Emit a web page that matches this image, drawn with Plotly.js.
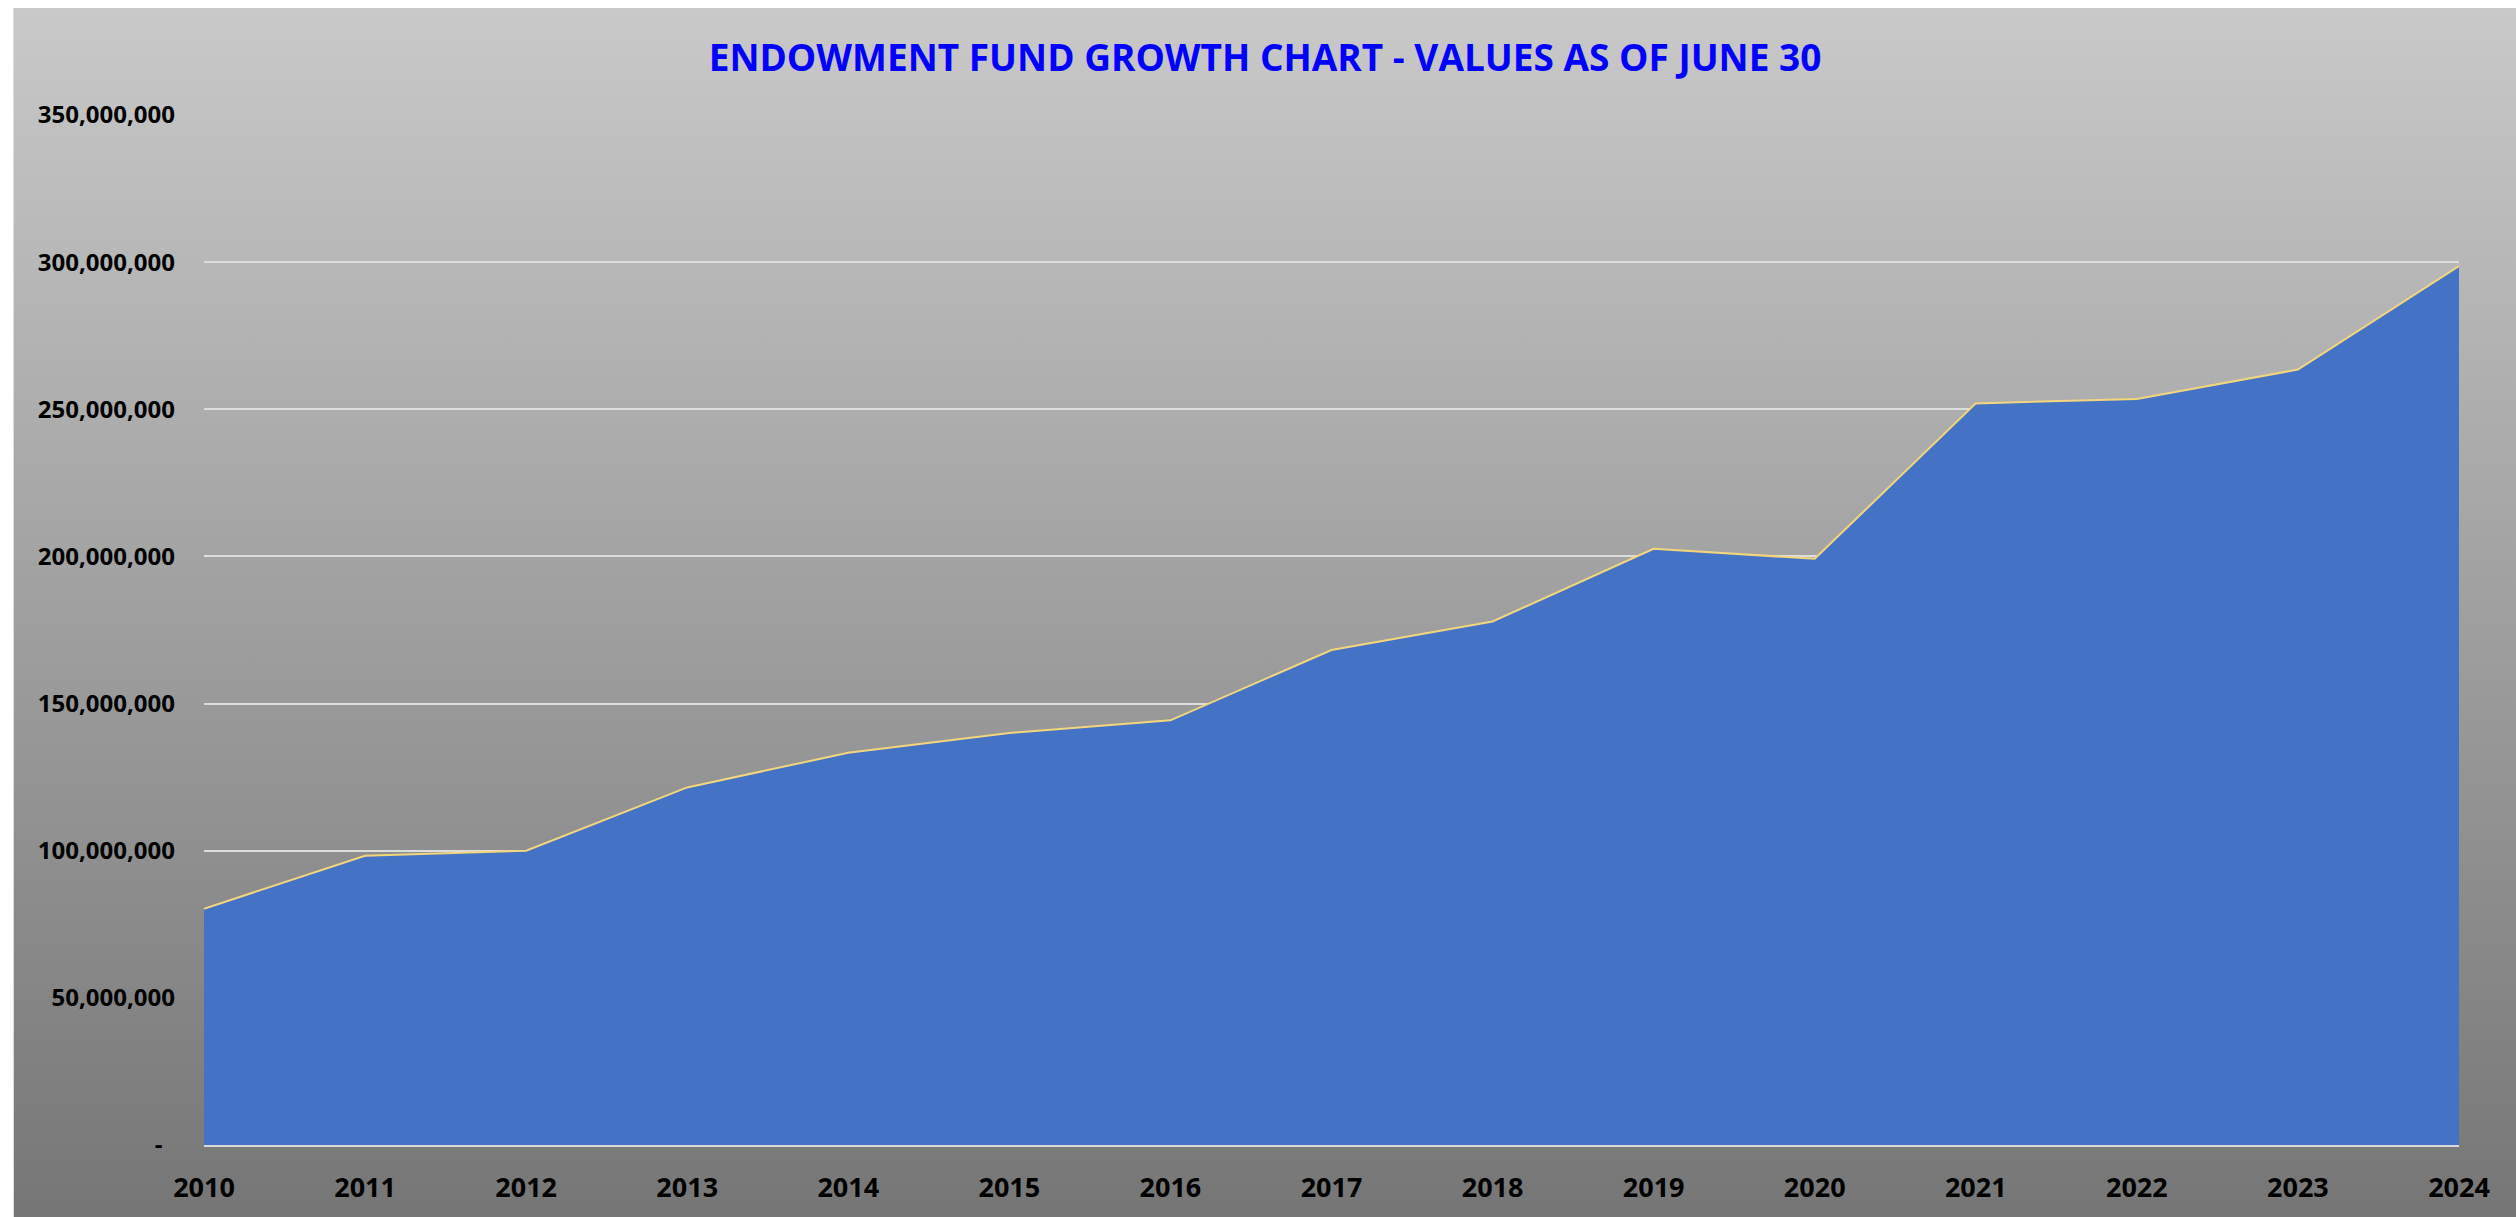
<!DOCTYPE html>
<html>
<head>
<meta charset="utf-8">
<script src="https://cdn.plot.ly/plotly-3.0.1.min.js"></script>
<style>
  html, body { margin: 0; padding: 0; background: #ffffff; width: 2516px; height: 1217px; overflow: hidden; }
  #chart {
    position: absolute; left: 13px; top: 8px; width: 2503px; height: 1209px;
    background: linear-gradient(to bottom, #c9c9c9 0%, #767676 100%);
    border-left: 1px solid #dcdcdc; box-sizing: border-box;
  }
</style>
</head>
<body>
<div id="chart"></div>
<script>
const years = [2010, 2011, 2012, 2013, 2014, 2015, 2016, 2017, 2018, 2019, 2020, 2021, 2022, 2023, 2024];
const fundValues = [80300000, 98300000, 100000000, 121500000, 133300000, 140000000, 144300000, 168200000, 177900000, 202600000, 199200000, 252000000, 253500000, 263500000, 298700000];
const yTickVals = [0, 50000000, 100000000, 150000000, 200000000, 250000000, 300000000, 350000000];
const yTickText = ['-\u00a0\u00a0', '50,000,000', '100,000,000', '150,000,000', '200,000,000', '250,000,000', '300,000,000', '350,000,000'];
const xTickText = years.map(String);
const chartTitle = 'ENDOWMENT FUND GROWTH CHART - VALUES AS OF JUNE 30';

const traces = [
  {
    x: years, y: fundValues, type: 'scatter', mode: 'lines',
    fill: 'tozeroy', fillcolor: '#4472C4',
    line: { color: '#F3D67C', width: 2 },
    hoverinfo: 'x+y', showlegend: false
  }
];

const layout = {
  width: 2502, height: 1209,
  paper_bgcolor: 'rgba(0,0,0,0)', plot_bgcolor: 'rgba(0,0,0,0)',
  margin: { l: 190, r: 57, t: 107, b: 72 },
  showlegend: false,
  title: {
    text: chartTitle,
    font: { family: 'Open Sans, sans-serif', size: 37, color: '#0000FF', weight: 'bold' },
    x: 0.5, xanchor: 'center', xref: 'container',
    y: 1 - 50 / 1209, yanchor: 'middle', yref: 'container'
  },
  xaxis: {
    type: 'linear', range: [2010, 2024],
    tickmode: 'array', tickvals: years, ticktext: xTickText,
    showgrid: false, zeroline: false,
    showline: true, linecolor: '#D9D9D9', linewidth: 2,
    ticks: '', ticklabelstandoff: 18,
    tickfont: { family: 'Open Sans, sans-serif', size: 27, color: '#000000', weight: 'bold' }
  },
  yaxis: {
    range: [0, 350000000],
    tickmode: 'array', tickvals: yTickVals, ticktext: yTickText,
    showgrid: true, gridcolor: '#DDDDDD', gridwidth: 2,
    zeroline: false, showline: false,
    ticks: '', ticklabelstandoff: 28,
    tickfont: { family: 'Open Sans, sans-serif', size: 24, color: '#000000', weight: 'bold' }
  }
};

Plotly.newPlot('chart', traces, layout, { displayModeBar: false, staticPlot: true });
</script>
</body>
</html>
